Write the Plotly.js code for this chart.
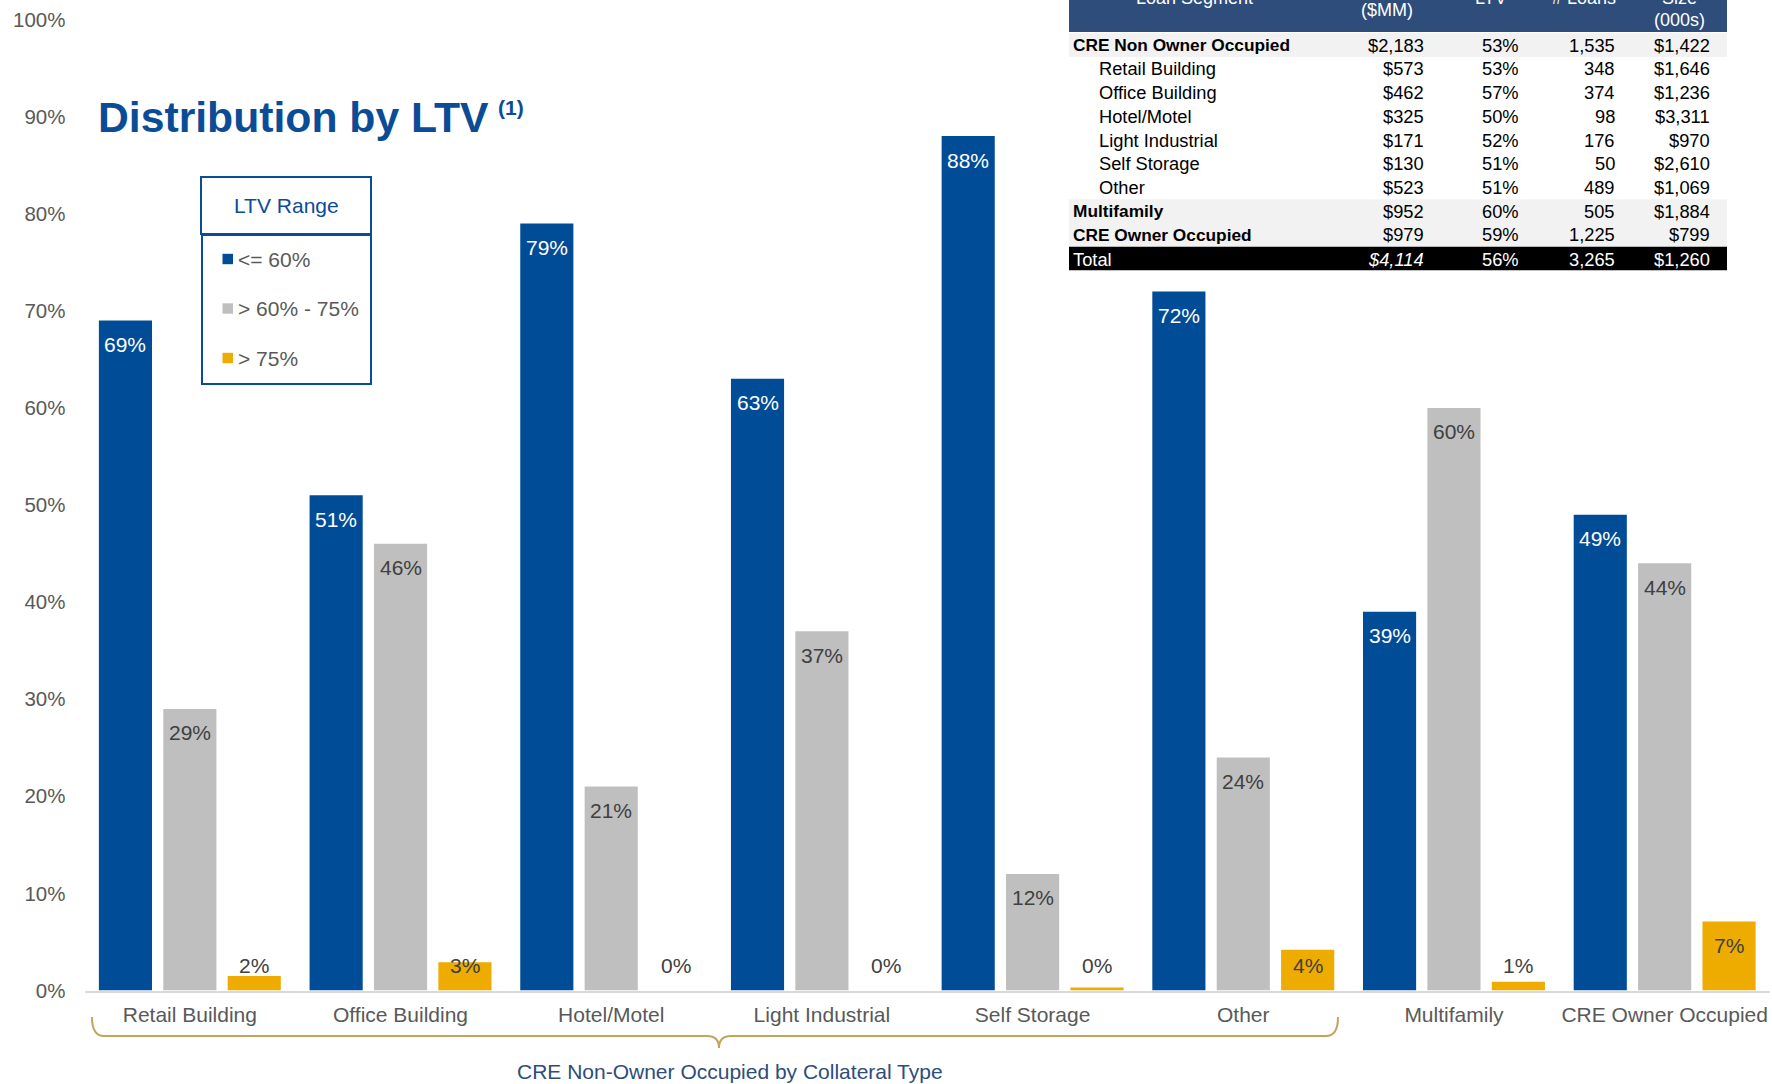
<!DOCTYPE html>
<html>
<head>
<meta charset="utf-8">
<script src="https://cdn.plot.ly/plotly-3.0.1.min.js"></script>
<style>
  html, body { margin: 0; padding: 0; background: #ffffff; }
  #chart { width: 1772px; height: 1084px; }
</style>
</head>
<body>
<div id="chart"></div>
<script>
// ---- Chart data: share of balances by LTV bucket (%) ----
const categories = ['Retail Building', 'Office Building', 'Hotel/Motel', 'Light Industrial',
                    'Self Storage', 'Other', 'Multifamily', 'CRE Owner Occupied'];
const ltvUpTo60   = [69, 51, 79, 63, 88, 72, 39, 49];
const ltv60to75   = [29, 46, 21, 37, 12, 24, 60, 44];
const ltvOver75   = [1.5, 2.9, 0, 0, 0.3, 4.2, 0.9, 7.1];
const seriesNames = ['<= 60%', '> 60% - 75%', '> 75%'];
const yTicks      = [0, 10, 20, 30, 40, 50, 60, 70, 80, 90, 100];

// ---- Loan segment summary table ----
const segments  = ['CRE Non Owner Occupied', 'Retail Building', 'Office Building', 'Hotel/Motel',
                   'Light Industrial', 'Self Storage', 'Other', 'Multifamily', 'CRE Owner Occupied', 'Total'];
const balances  = ['$2,183', '$573', '$462', '$325', '$171', '$130', '$523', '$952', '$979', '$4,114'];
const ltvs      = ['53%', '53%', '57%', '50%', '52%', '51%', '51%', '60%', '59%', '56%'];
const loanCount = ['1,535', '348', '374', '98', '176', '50', '489', '505', '1,225', '3,265'];
const avgSize   = ['$1,422', '$1,646', '$1,236', '$3,311', '$970', '$2,610', '$1,069', '$1,884', '$799', '$1,260'];
const rowKinds  = ['group', 'item', 'item', 'item', 'item', 'item', 'item', 'group', 'group', 'total'];

// ---- Page geometry (margins are zero, so paper coordinates span the whole page) ----
const W = 1772, H = 1084;
const px = x => x / W;
const py = y => 1 - y / H;

const FONT = 'Liberation Sans, Arial, Helvetica, sans-serif';
const BLUE = '#004C97', GRAY = '#BFBFBF', GOLD = '#EEAB00';
const TITLE_BLUE = '#0B4C97';
const AXIS_TEXT = '#595959';
const LABEL_DARK = '#404040';

const BARGAP = 0.083, BARGROUPGAP = 0.175;
const SLOT = (1 - BARGAP) / 3;      // width of one bar slot within a category
const LABEL_FLOOR = 5.0;            // labels of short bars sit at this level
const LABEL_DROP = 24;              // label centre sits this many px below the bar top

const series = [ltvUpTo60, ltv60to75, ltvOver75];
const colors = [BLUE, GRAY, GOLD];
const labelColors = ['#ffffff', LABEL_DARK, LABEL_DARK];

const traces = series.map((vals, k) => ({
  type: 'bar',
  name: seriesNames[k],
  x: categories,
  y: vals,
  marker: { color: colors[k], line: { width: 0 } },
  showlegend: false,
  hoverinfo: 'x+y'
}));

const annotations = [];
const shapes = [];

// Value labels for every bar
series.forEach((vals, k) => {
  vals.forEach((v, i) => {
    annotations.push({
      xref: 'x', yref: 'y',
      x: i + (k - 1) * SLOT,
      y: Math.max(v, LABEL_FLOOR),
      yshift: -LABEL_DROP,
      xanchor: 'center', yanchor: 'middle',
      text: Math.round(v) + '%',
      showarrow: false,
      font: { family: FONT, size: 21, color: labelColors[k] }
    });
  });
});

// Superscript note marker next to the title
annotations.push({
  xref: 'paper', yref: 'paper', x: px(496), y: py(107),
  xanchor: 'left', yanchor: 'middle', showarrow: false,
  text: '<b>(1)</b>',
  font: { family: FONT, size: 21, color: TITLE_BLUE }
});

// ---- Legend box ----
shapes.push({ type: 'rect', xref: 'paper', yref: 'paper', layer: 'above',
  x0: px(201), x1: px(371), y0: py(177), y1: py(234),
  line: { color: TITLE_BLUE, width: 2 }, fillcolor: 'rgba(255,255,255,0)' });
shapes.push({ type: 'rect', xref: 'paper', yref: 'paper', layer: 'above',
  x0: px(202), x1: px(371), y0: py(235), y1: py(384),
  line: { color: TITLE_BLUE, width: 2 }, fillcolor: 'rgba(255,255,255,0)' });
annotations.push({
  xref: 'paper', yref: 'paper', x: px(286), y: py(205),
  xanchor: 'center', yanchor: 'middle', showarrow: false,
  text: 'LTV Range', font: { family: FONT, size: 21, color: TITLE_BLUE }
});
const legendRows = [259, 308.5, 358];
seriesNames.forEach((name, k) => {
  const cy = legendRows[k];
  shapes.push({ type: 'rect', xref: 'paper', yref: 'paper', layer: 'above',
    x0: px(222.5), x1: px(233), y0: py(cy - 5.2), y1: py(cy + 5.2),
    line: { width: 0 }, fillcolor: colors[k] });
  annotations.push({
    xref: 'paper', yref: 'paper', x: px(236), y: py(cy),
    xanchor: 'left', yanchor: 'middle', showarrow: false,
    text: name.replace(/</g, '&lt;').replace(/>/g, '&gt;'),
    font: { family: FONT, size: 21, color: AXIS_TEXT }
  });
});

// ---- Brace under the non-owner-occupied categories ----
const bracePts = [
  ['M', 92, 1017], ['Q', 92, 1036, 104, 1036], ['L', 707, 1036],
  ['Q', 719, 1036, 719, 1048], ['Q', 719, 1036, 731, 1036], ['L', 1326, 1036],
  ['Q', 1338, 1036, 1338, 1017]
];
const bracePath = bracePts.map(seg => {
  const cmd = seg[0];
  const nums = [];
  for (let j = 1; j < seg.length; j += 2) nums.push(px(seg[j]).toFixed(5) + ',' + py(seg[j + 1]).toFixed(5));
  return cmd + nums.join(' ');
}).join(' ');
shapes.push({ type: 'path', xref: 'paper', yref: 'paper', layer: 'above',
  path: bracePath, line: { color: '#C3A45E', width: 2 } });
annotations.push({
  xref: 'paper', yref: 'paper', x: px(730), y: py(1071),
  xanchor: 'center', yanchor: 'middle', showarrow: false,
  text: 'CRE Non-Owner Occupied by Collateral Type',
  font: { family: FONT, size: 21, color: '#2E4D7A' }
});

// ---- Summary table (its header band runs off the top edge of the page) ----
const TBL_L = 1069, TBL_R = 1727, HEADER_BOTTOM = 32;
const ROW0 = 45.2, ROW_H = 23.7;
const colRight = [1425.5, 1521, 1616.5, 1712];
shapes.push({ type: 'rect', xref: 'paper', yref: 'paper', layer: 'above',
  x0: px(TBL_L), x1: px(TBL_R), y0: py(0), y1: py(HEADER_BOTTOM),
  line: { width: 0 }, fillcolor: '#2E4D7A' });

const headerCells = [
  { t: 'Loan Segment', x: 1194, y: -2.3 },
  { t: '($MM)', x: 1387, y: 9.5 },
  { t: 'LTV', x: 1491, y: -2.3 },
  { t: '# Loans', x: 1584, y: -2.3 },
  { t: 'Size', x: 1679, y: -2.3 }, { t: '(000s)', x: 1679, y: 20 }
];
headerCells.forEach(c => annotations.push({
  xref: 'paper', yref: 'paper', x: px(c.x), y: py(c.y),
  xanchor: 'center', yanchor: 'middle', showarrow: false,
  text: c.t, font: { family: FONT, size: 18, color: '#ffffff' }
}));

segments.forEach((seg, r) => {
  const cy = ROW0 + ROW_H * r;
  const kind = rowKinds[r];
  if (kind !== 'item') {
    shapes.push({ type: 'rect', xref: 'paper', yref: 'paper', layer: 'above',
      x0: px(TBL_L), x1: px(TBL_R), y0: py(cy + ROW_H / 2), y1: py(cy - ROW_H / 2),
      line: { width: 0 }, fillcolor: kind === 'total' ? '#000000' : '#F2F2F2' });
  }
  const color = kind === 'total' ? '#ffffff' : '#000000';
  const bold = kind === 'group';
  annotations.push({
    xref: 'paper', yref: 'paper', x: px(kind === 'item' ? 1097 : 1071), y: py(cy + (kind === 'total' ? 1 : 0)),
    xanchor: 'left', yanchor: 'middle', showarrow: false,
    text: bold ? '<b>' + seg + '</b>' : seg,
    font: { family: FONT, size: bold ? 17.3 : 18.3, color: color }
  });
  [balances[r], ltvs[r], loanCount[r], avgSize[r]].forEach((val, c) => {
    const italic = kind === 'total' && c === 0;
    annotations.push({
      xref: 'paper', yref: 'paper', x: px(colRight[c]), y: py(cy + (kind === 'total' ? 1 : 0)),
      xanchor: 'right', yanchor: 'middle', showarrow: false,
      text: italic ? '<i>' + val + '</i>' : val,
      font: { family: FONT, size: 18.3, color: color }
    });
  });
});

const layout = {
  width: W, height: H,
  margin: { l: 0, r: 0, t: 0, b: 0, pad: 0 },
  paper_bgcolor: '#ffffff', plot_bgcolor: '#ffffff',
  font: { family: FONT, color: AXIS_TEXT },
  title: {
    text: '<b>Distribution by LTV</b>',
    xref: 'paper', yref: 'paper', x: px(98), y: py(117.5),
    xanchor: 'left', yanchor: 'middle',
    font: { family: FONT, size: 42.7, color: TITLE_BLUE }
  },
  barmode: 'group', bargap: BARGAP, bargroupgap: BARGROUPGAP,
  showlegend: false,
  xaxis: {
    type: 'category',
    domain: [px(84.5), px(1770)],
    range: [-0.5, categories.length - 0.5],
    showgrid: false, zeroline: false,
    showline: true, linecolor: '#D9D9D9', linewidth: 2,
    ticks: 'outside', ticklen: 4, tickcolor: 'rgba(0,0,0,0)',
    ticklabelstandoff: 1.5,
    tickfont: { family: FONT, size: 21, color: AXIS_TEXT },
    fixedrange: true
  },
  yaxis: {
    domain: [py(990.5), py(19.5)],
    range: [0, 100],
    tickmode: 'array', tickvals: yTicks, ticktext: yTicks.map(v => v + '%'),
    showgrid: false, zeroline: false, showline: false,
    ticks: '', ticklabelstandoff: 18,
    tickfont: { family: FONT, size: 20.5, color: AXIS_TEXT },
    fixedrange: true
  },
  shapes: shapes,
  annotations: annotations
};

Plotly.newPlot('chart', traces, layout, { displayModeBar: false, staticPlot: true });
</script>
</body>
</html>
